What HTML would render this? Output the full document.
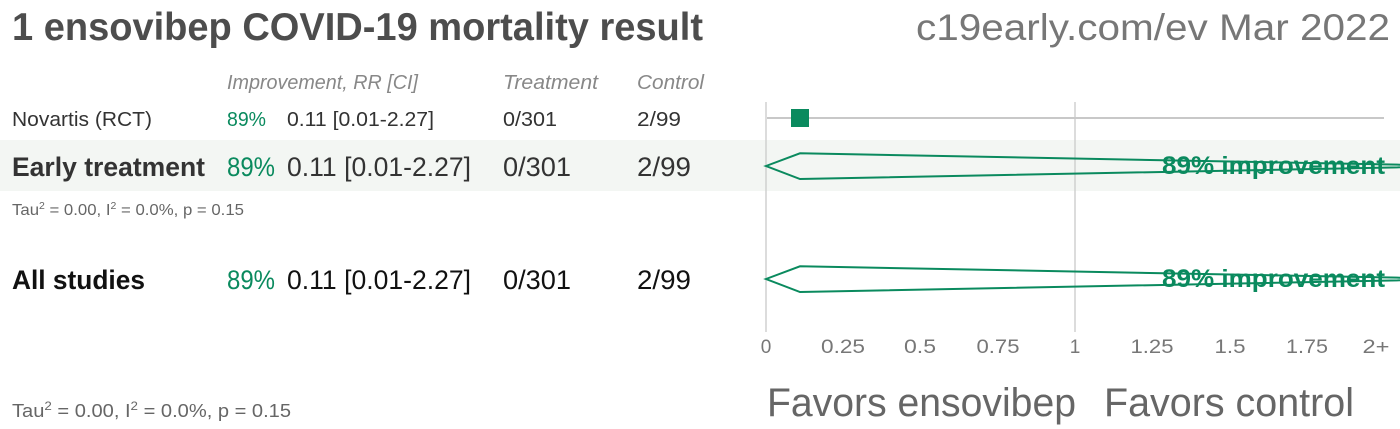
<!DOCTYPE html>
<html>
<head>
<meta charset="utf-8">
<style>
  html,body{margin:0;padding:0;background:#fff;}
  svg{display:block;}
  text{font-family:"Liberation Sans",Arial,sans-serif;}
</style>
</head>
<body>
<svg width="1400" height="429" viewBox="0 0 1400 429" xmlns="http://www.w3.org/2000/svg">
  <!-- shaded band -->
  <rect x="0" y="140" width="1400" height="51" fill="#f3f6f3"/>

  <!-- title -->
  <text x="12" y="40" font-size="39" font-weight="bold" fill="#4d4d4d" textLength="691" lengthAdjust="spacingAndGlyphs">1 ensovibep COVID-19 mortality result</text>
  <text x="916" y="40" font-size="37" fill="#777" textLength="474" lengthAdjust="spacingAndGlyphs">c19early.com/ev Mar 2022</text>

  <!-- header -->
  <g font-size="20" font-style="italic" fill="#888">
    <text x="227" y="89" textLength="191" lengthAdjust="spacingAndGlyphs">Improvement, RR [CI]</text>
    <text x="503" y="89" textLength="95" lengthAdjust="spacingAndGlyphs">Treatment</text>
    <text x="637" y="89" textLength="67" lengthAdjust="spacingAndGlyphs">Control</text>
  </g>

  <!-- Novartis row -->
  <g font-size="20" fill="#333">
    <text x="12" y="126" textLength="140" lengthAdjust="spacingAndGlyphs">Novartis (RCT)</text>
    <text x="227" y="126" fill="#0a8a5e" textLength="39" lengthAdjust="spacingAndGlyphs">89%</text>
    <text x="287" y="126" textLength="147" lengthAdjust="spacingAndGlyphs">0.11 [0.01-2.27]</text>
    <text x="503" y="126" textLength="54" lengthAdjust="spacingAndGlyphs">0/301</text>
    <text x="637" y="126" textLength="44" lengthAdjust="spacingAndGlyphs">2/99</text>
  </g>

  <!-- Early treatment row -->
  <g font-size="27" fill="#333">
    <text x="12" y="176" font-weight="bold" textLength="193" lengthAdjust="spacingAndGlyphs">Early treatment</text>
    <text x="227" y="176" fill="#0a8a5e" textLength="48" lengthAdjust="spacingAndGlyphs">89%</text>
    <text x="287" y="176" textLength="184" lengthAdjust="spacingAndGlyphs">0.11 [0.01-2.27]</text>
    <text x="503" y="176" textLength="68" lengthAdjust="spacingAndGlyphs">0/301</text>
    <text x="637" y="176" textLength="54" lengthAdjust="spacingAndGlyphs">2/99</text>
  </g>

  <!-- Tau 1 -->
  <text x="12" y="215" font-size="16" fill="#666" textLength="232" lengthAdjust="spacingAndGlyphs">Tau<tspan font-size="10" dy="-6">2</tspan><tspan dy="6"> = 0.00, I</tspan><tspan font-size="10" dy="-6">2</tspan><tspan dy="6"> = 0.0%, p = 0.15</tspan></text>

  <!-- All studies row -->
  <g font-size="27" fill="#111">
    <text x="12" y="289" font-weight="bold" textLength="133" lengthAdjust="spacingAndGlyphs">All studies</text>
    <text x="227" y="289" fill="#0a8a5e" textLength="48" lengthAdjust="spacingAndGlyphs">89%</text>
    <text x="287" y="289" textLength="184" lengthAdjust="spacingAndGlyphs">0.11 [0.01-2.27]</text>
    <text x="503" y="289" textLength="68" lengthAdjust="spacingAndGlyphs">0/301</text>
    <text x="637" y="289" textLength="54" lengthAdjust="spacingAndGlyphs">2/99</text>
  </g>

  <!-- Tau 2 -->
  <text x="12" y="417" font-size="18" fill="#666" textLength="279" lengthAdjust="spacingAndGlyphs">Tau<tspan font-size="12" dy="-7">2</tspan><tspan dy="7"> = 0.00, I</tspan><tspan font-size="12" dy="-7">2</tspan><tspan dy="7"> = 0.0%, p = 0.15</tspan></text>

  <!-- axis vertical lines -->
  <line x1="766" y1="102" x2="766" y2="332" stroke="#d0d0d0" stroke-width="1.5"/>
  <line x1="1075" y1="102" x2="1075" y2="332" stroke="#d0d0d0" stroke-width="1.5"/>

  <!-- Novartis CI line & square -->
  <line x1="767" y1="118" x2="1384" y2="118" stroke="#c8c8c8" stroke-width="2"/>
  <rect x="791" y="109" width="18" height="18" fill="#0a8a5e"/>

  <!-- diamonds -->
  <polygon points="766,166 800,153.3 1467,166 800,179" fill="none" stroke="#0a8a5e" stroke-width="2"/>
  <polygon points="766,279 800,266.3 1467,279 800,292" fill="none" stroke="#0a8a5e" stroke-width="2"/>

  <!-- improvement labels -->
  <text x="1162" y="174" font-size="25" font-weight="bold" fill="#0a8a5e" textLength="223" lengthAdjust="spacingAndGlyphs">89% improvement</text>
  <text x="1162" y="287" font-size="25" font-weight="bold" fill="#0a8a5e" textLength="223" lengthAdjust="spacingAndGlyphs">89% improvement</text>

  <!-- tick labels -->
  <g font-size="19" fill="#777" text-anchor="middle">
    <text x="766" y="353">0</text>
    <text x="843" y="353" textLength="44" lengthAdjust="spacingAndGlyphs">0.25</text>
    <text x="920" y="353" textLength="32" lengthAdjust="spacingAndGlyphs">0.5</text>
    <text x="998" y="353" textLength="43" lengthAdjust="spacingAndGlyphs">0.75</text>
    <text x="1075" y="353">1</text>
    <text x="1152" y="353" textLength="43" lengthAdjust="spacingAndGlyphs">1.25</text>
    <text x="1230" y="353" textLength="31" lengthAdjust="spacingAndGlyphs">1.5</text>
    <text x="1307" y="353" textLength="42" lengthAdjust="spacingAndGlyphs">1.75</text>
    <text x="1376" y="353" textLength="27" lengthAdjust="spacingAndGlyphs">2+</text>
  </g>

  <!-- favors labels -->
  <text x="767" y="416" font-size="40" fill="#666" textLength="309" lengthAdjust="spacingAndGlyphs">Favors ensovibep</text>
  <text x="1104" y="416" font-size="40" fill="#666" textLength="250" lengthAdjust="spacingAndGlyphs">Favors control</text>
</svg>
</body>
</html>
